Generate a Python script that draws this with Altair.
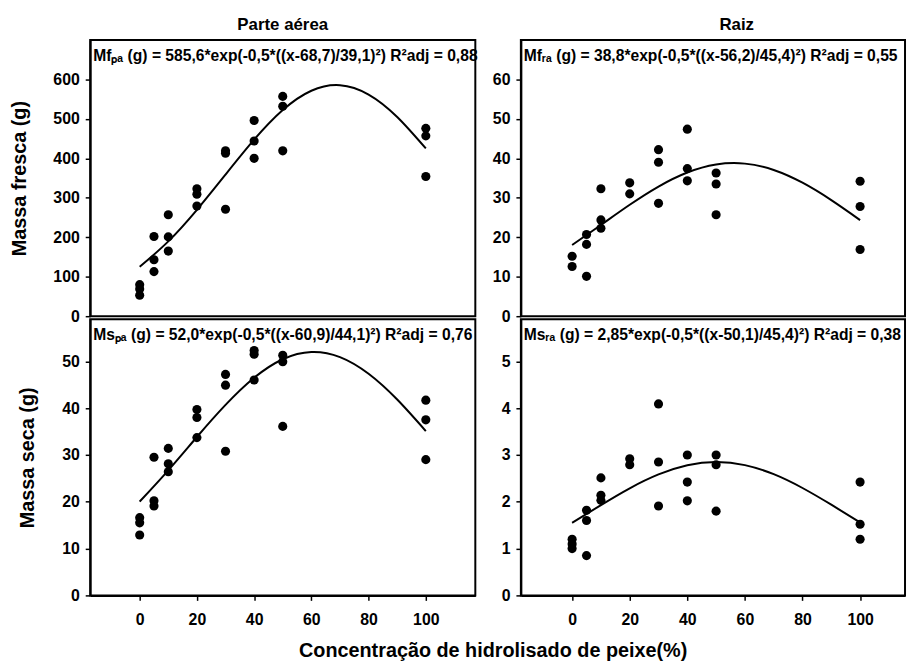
import altair as alt
import pandas as pd

FONT = "Liberation Sans"

# ---- data ----
x_mf_pa = [0, 0, 0, 5, 5, 5, 10, 10, 10, 20, 20, 20, 30, 30, 30, 40, 40, 40, 50, 50, 50, 100, 100, 100]
y_mf_pa = [80, 69, 53, 202, 143, 113, 257, 201, 165, 323, 309, 279, 419, 413, 271, 496, 444, 400, 557, 532, 419, 476, 457, 354]

x_mf_ra = [0, 0, 5, 5, 5, 10, 10, 10, 20, 20, 30, 30, 30, 40, 40, 40, 50, 50, 50, 100, 100, 100]
y_mf_ra = [15.2, 12.6, 20.7, 18.2, 10.1, 32.3, 24.4, 22.3, 33.8, 31.0, 42.2, 39.0, 28.6, 47.4, 37.4, 34.3, 36.3, 33.5, 25.7, 34.2, 27.8, 16.9]

x_ms_pa = [0, 0, 0, 5, 5, 5, 10, 10, 10, 20, 20, 20, 30, 30, 30, 40, 40, 40, 50, 50, 50, 100, 100, 100]
y_ms_pa = [16.6, 15.5, 12.9, 29.5, 20.2, 19.1, 31.4, 28.1, 26.4, 39.7, 38.0, 33.7, 47.2, 44.9, 30.8, 52.3, 51.5, 46.0, 51.3, 49.9, 36.1, 41.7, 37.5, 29.0]

x_ms_ra = [0, 0, 0, 5, 5, 5, 10, 10, 10, 20, 20, 30, 30, 30, 40, 40, 40, 50, 50, 50, 100, 100, 100]
y_ms_ra = [1.2, 1.1, 1.0, 1.82, 1.6, 0.85, 2.51, 2.14, 2.03, 2.92, 2.79, 4.09, 2.85, 1.91, 3.0, 2.42, 2.02, 3.0, 2.79, 1.8, 2.42, 1.52, 1.2]

# fitted curves
curve_x = [0, 10, 20, 30, 40, 50, 60, 70, 80, 90, 100]
curve_mf_pa = [125.1, 189.7, 269.6, 358.9, 447.3, 522.3, 571.3, 585.3, 561.7, 504.9, 425.1]
curve_mf_ra = [18.03, 23.12, 28.23, 32.85, 36.41, 38.44, 38.66, 37.05, 33.82, 29.41, 24.36]
curve_ms_pa = [20.04, 26.71, 33.83, 40.68, 46.48, 50.44, 51.99, 50.90, 47.34, 41.83, 35.10]
curve_ms_ra = [1.550, 1.929, 2.288, 2.584, 2.780, 2.850, 2.783, 2.589, 2.294, 1.937, 1.558]

eq_mf_pa = "Mfₚₐ (g) = 585,6*exp(-0,5*((x-68,7)/39,1)²)  R²adj = 0,88"
eq_mf_ra = "Mfᵣₐ (g) = 38,8*exp(-0,5*((x-56,2)/45,4)²)  R²adj = 0,55"
eq_ms_pa = "Msₚₐ (g) = 52,0*exp(-0,5*((x-60,9)/44,1)²)  R²adj = 0,76"
eq_ms_ra = "Msᵣₐ (g) = 2,85*exp(-0,5*((x-50,1)/45,4)²)  R²adj = 0,38"

x_ticks = [0, 20, 40, 60, 80, 100]
col_titles = ["Parte aérea", "Raiz"]
y_titles = ["Massa fresca (g)", "Massa seca (g)"]
x_title = "Concentração de hidrolisado de peixe(%)"

H = 279
title_style = dict(font=FONT, fontSize=17, fontWeight="bold", color="black", offset=6, anchor="middle")


def panel(px, py, cy, eq, ydom, yticks, ytitle, show_x, W, xdom, title=None, title_dx=0):
    pts = pd.DataFrame({"x": px, "y": py})
    crv = pd.DataFrame({"x": curve_x, "y": cy})
    xsc = alt.Scale(domain=xdom, nice=False, zero=False)
    ysc = alt.Scale(domain=ydom, nice=False, zero=False)
    if show_x:
        xenc = alt.X("x:Q", scale=xsc, axis=alt.Axis(values=x_ticks, title=None, labelPadding=11))
    else:
        xenc = alt.X("x:Q", scale=xsc, axis=None)
    if ytitle:
        yenc = alt.Y("y:Q", scale=ysc, axis=alt.Axis(values=yticks, title=ytitle))
    else:
        yenc = alt.Y("y:Q", scale=ysc, axis=alt.Axis(values=yticks, title=None))
    line = alt.Chart(crv).mark_line(color="black", strokeWidth=2, interpolate="natural").encode(x=xenc, y=yenc)
    dots = alt.Chart(pts).mark_circle(size=85, color="black", opacity=1).encode(x="x:Q", y="y:Q")
    txt = alt.Chart(pd.DataFrame({"t": [eq]})).mark_text(
        align="left", baseline="middle", font=FONT, fontSize=15.8, fontWeight="bold", color="black"
    ).encode(text="t:N", x=alt.value(3), y=alt.value(16))
    lay = alt.layer(line, dots, txt).properties(width=W, height=H)
    if title:
        lay = lay.properties(title=alt.TitleParams(title, dx=title_dx, **title_style))
    return lay


LW, LDOM = 389, [-17.3, 117.3]
RW, RDOM = 388, [-17.8, 115.6]

tl = panel(x_mf_pa, y_mf_pa, curve_mf_pa, eq_mf_pa, [0, 700], [0, 100, 200, 300, 400, 500, 600],
           y_titles[0], False, LW, LDOM, col_titles[0])
tr = panel(x_mf_ra, y_mf_ra, curve_mf_ra, eq_mf_ra, [0, 70], [0, 10, 20, 30, 40, 50, 60],
           None, False, RW, RDOM, col_titles[1], 24)
bl = panel(x_ms_pa, y_ms_pa, curve_ms_pa, eq_ms_pa, [0, 59], [0, 10, 20, 30, 40, 50],
           y_titles[1], True, LW, LDOM)
br = panel(x_ms_ra, y_ms_ra, curve_ms_ra, eq_ms_ra, [0, 5.9], [0, 1, 2, 3, 4, 5],
           None, True, RW, RDOM)

chart = alt.concat(
    tl, tr, bl, br, columns=2, spacing={"row": 3, "column": 46}, bounds="flush",
    title=alt.TitleParams(x_title, orient="bottom", anchor="middle", font=FONT, fontSize=20,
                          fontWeight="bold", color="black", offset=13, dx=36),
).properties(
    padding={"left": 0, "top": 4, "right": 0, "bottom": 0}
).configure_view(
    stroke="black", strokeWidth=2
).configure_axis(
    grid=False, domainColor="black", domainWidth=2, tickColor="black", tickWidth=1.5, tickSize=5,
    labelFont=FONT, labelFontSize=16, labelFontWeight="bold", labelColor="black", labelPadding=6,
    titleFont=FONT, titleFontSize=20, titleFontWeight="bold", titleColor="black", titlePadding=24,
)

chart.save("out.html", embed_options={"renderer": "svg", "actions": False})
